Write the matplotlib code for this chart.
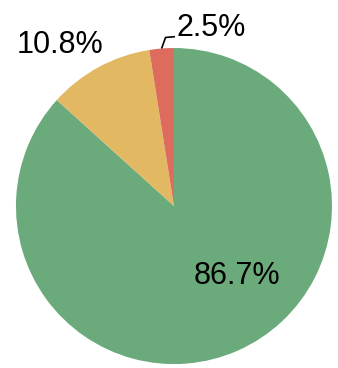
import numpy as np
import matplotlib
matplotlib.use("Agg")
import matplotlib.pyplot as plt

shares = [86.7, 10.8, 2.5]
labels = ["86.7%", "10.8%", "2.5%"]
colors = ["#6aaa7b", "#e3b862", "#dd6c5e"]

plt.rcParams["font.family"] = ["Liberation Sans", "DejaVu Sans"]

fig = plt.figure(figsize=(3.38, 3.68), dpi=100)
ax = fig.add_axes([0, 0, 1, 1])
wedges, _ = ax.pie(shares, colors=colors, startangle=90, counterclock=False,
                   radius=1.0, wedgeprops=dict(linewidth=0))
ax.set_xlim(-1.101, 1.038)
ax.set_ylim(-1.025, 1.304)
ax.set_aspect("equal")
ax.axis("off")

fs = 22
ax.text(0.40, -0.44, labels[0], fontsize=fs, ha="center", va="center")
ax.text(-0.72, 1.02, labels[1], fontsize=fs, ha="center", va="center")

# small slice: leader line from the wedge edge
w = wedges[2]
mid = np.deg2rad((w.theta1 + w.theta2) / 2)
x0, y0 = np.cos(mid), np.sin(mid)
ax.plot([x0, x0 + 0.025, x0 + 0.085], [y0, y0 + 0.07, y0 + 0.075],
        color="black", linewidth=1.2, solid_capstyle="butt")
ax.text(x0 + 0.095, y0 + 0.13, labels[2], fontsize=fs, ha="left", va="center")

fig.savefig("out.png", dpi=100)
